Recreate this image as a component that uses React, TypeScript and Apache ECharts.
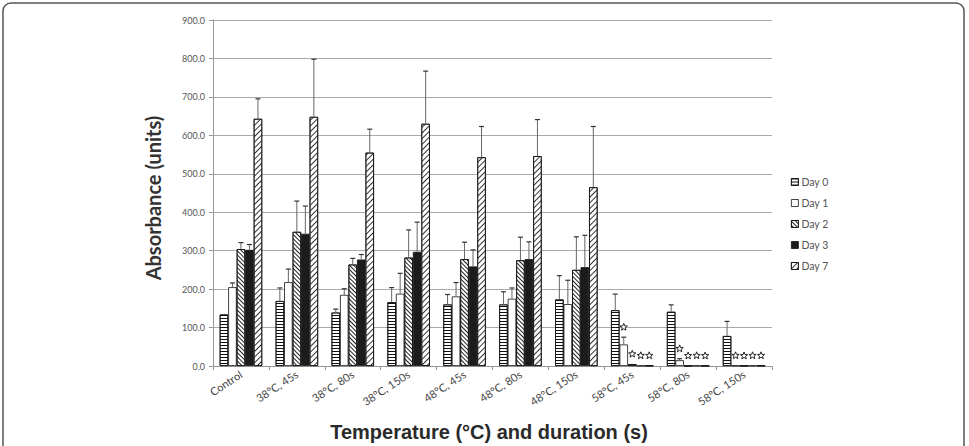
import React, { useEffect, useRef } from "react";
import * as echarts from "echarts";

const categories = [
  "Control",
  "38°C, 45s",
  "38°C, 80s",
  "38°C, 150s",
  "48°C, 45s",
  "48°C, 80s",
  "48°C, 150s",
  "58°C, 45s",
  "58°C, 80s",
  "58°C, 150s",
];

const dayNames = ["Day 0", "Day 1", "Day 2", "Day 3", "Day 7"];

const day0 = [134, 169, 139, 166, 160, 160, 173, 145, 141, 78];
const day1 = [205, 218, 185, 188, 181, 175, 161, 56, 15, 1];
const day2 = [304, 349, 264, 282, 278, 275, 250, 5, 0.5, 0.5];
const day3 = [302, 344, 277, 297, 259, 278, 257, 1, 1, 1];
const day7 = [643, 648, 555, 630, 543, 546, 465, 1, 0.5, 1];

const day0Err = [0, 34, 9, 38, 26, 33, 62, 42, 18, 38];
const day1Err = [11, 34, 16, 53, 36, 28, 62, 19, 4, 0];
const day2Err = [17, 80, 16, 72, 44, 60, 86, 0, 0, 0];
const day3Err = [14, 72, 13, 77, 43, 45, 83, 0, 0, 0];
const day7Err = [52, 150, 61, 137, 80, 95, 158, 0, 0, 0];

// [category index, day index] of bars flagged as significant
const starMarks = [
  [7, 1], [7, 2], [7, 3], [7, 4],
  [8, 1], [8, 2], [8, 3], [8, 4],
  [9, 1], [9, 2], [9, 3], [9, 4],
];

const yTicks = { min: 0, max: 900, interval: 100 };

const values = [day0, day1, day2, day3, day7];
const errors = [day0Err, day1Err, day2Err, day3Err, day7Err];

const CATEGORY_GAP = 0.24;
const LABEL_FONT = "Lato, 'DejaVu Sans', sans-serif";

const styles = [
  {
    color: "#fff",
    decal: {
      symbol: "rect",
      symbolSize: 1,
      color: "#111",
      dashArrayX: [1, 0],
      dashArrayY: [1, 2],
      rotation: 0,
    },
  },
  { color: "#fff", decal: "none" },
  {
    color: "#fff",
    decal: {
      symbol: "rect",
      symbolSize: 1,
      color: "#222",
      dashArrayX: [1, 0],
      dashArrayY: [1, 1.5],
      rotation: Math.PI / 4,
    },
  },
  { color: "#1c1c1c", decal: "none" },
  {
    color: "#fff",
    decal: {
      symbol: "rect",
      symbolSize: 1,
      color: "#333",
      dashArrayX: [1, 0],
      dashArrayY: [1, 2.2],
      rotation: -Math.PI / 4,
    },
  },
];

// five-pointed outline star centred on (cx, cy)
function starPoints(cx: number, cy: number, ro: number, ri: number) {
  const pts: number[][] = [];
  for (let i = 0; i < 10; i++) {
    const r = i % 2 === 0 ? ro : ri;
    const a = -Math.PI / 2 + (i * Math.PI) / 5;
    pts.push([cx + r * Math.cos(a), cy + r * Math.sin(a)]);
  }
  return pts;
}

export default function App() {
  const ref = useRef<HTMLDivElement>(null);

  useEffect(() => {
    if (!ref.current) return;
    const chart = echarts.init(ref.current, undefined, { renderer: "svg" });

    const barSeries = dayNames.map((name, s) => ({
      name,
      type: "bar",
      barGap: "0%",
      barCategoryGap: `${CATEGORY_GAP * 100}%`,
      data: values[s],
      itemStyle: {
        color: styles[s].color,
        borderColor: "#111",
        borderWidth: 0.8,
        decal: styles[s].decal,
      },
      z: 2,
    }));

    const starSet = new Set(starMarks.map(([c, s]) => `${c}-${s}`));
    const errData: number[][] = [];
    values.forEach((arr, s) => {
      arr.forEach((v, c) => {
        errData.push([c, s, v, errors[s][c], starSet.has(`${c}-${s}`) ? 1 : 0]);
      });
    });

    const errorSeries = {
      type: "custom",
      name: "errors",
      z: 5,
      encode: { x: 0, y: 2 },
      data: errData,
      renderItem: (params: any, api: any) => {
        const c = api.value(0);
        const s = api.value(1);
        const v = api.value(2);
        const e = api.value(3);
        const star = api.value(4);
        const band = api.size([1, 0])[0];
        const bw = (band * (1 - CATEGORY_GAP)) / 5;
        const cx = api.coord([c, 0])[0] - 2.5 * bw + (s + 0.5) * bw;
        const yv = api.coord([c, v])[1];
        const yt = api.coord([c, v + e])[1];
        const children: any[] = [];
        if (e > 0) {
          children.push({
            type: "line",
            shape: { x1: cx, y1: yv, x2: cx, y2: yt },
            style: { stroke: "#666", lineWidth: 1 },
          });
          children.push({
            type: "line",
            shape: { x1: cx - 2.5, y1: yt, x2: cx + 2.5, y2: yt },
            style: { stroke: "#333", lineWidth: 1.2 },
          });
        }
        if (star) {
          children.push({
            type: "polygon",
            shape: { points: starPoints(cx, yt - 10, 3.8, 1.6) },
            style: { fill: "#fff", stroke: "#111", lineWidth: 0.9 },
          });
        }
        return { type: "group", children };
      },
    };

    chart.setOption({
      animation: false,
      backgroundColor: "#fff",
      grid: { left: 213, right: 197, top: 20, bottom: 80 },
      legend: {
        data: dayNames,
        orient: "vertical",
        left: 786,
        top: 171,
        itemWidth: 7,
        itemHeight: 7,
        itemGap: 9,
        icon: "rect",
        itemStyle: { borderColor: "#111", borderWidth: 0.8 },
        textStyle: {
          fontFamily: LABEL_FONT,
          fontSize: 10.5,
          color: "#555",
          lineHeight: 12,
          padding: [0, 0, 0, -2],
        },
      },
      xAxis: {
        type: "category",
        data: categories,
        axisLine: { lineStyle: { color: "#999" } },
        axisTick: { show: true, length: 4, lineStyle: { color: "#999" } },
        axisLabel: {
          interval: 0,
          rotate: 33,
          fontFamily: LABEL_FONT,
          fontSize: 11,
          color: "#444",
          margin: 7,
        },
      },
      yAxis: {
        type: "value",
        min: yTicks.min,
        max: yTicks.max,
        interval: yTicks.interval,
        axisLine: { show: true, lineStyle: { color: "#999" } },
        axisTick: { show: true, length: 4, lineStyle: { color: "#999" } },
        splitLine: { lineStyle: { color: "#aaa" } },
        axisLabel: {
          formatter: (v: number) => v.toFixed(1),
          fontFamily: LABEL_FONT,
          fontSize: 9,
          color: "#555",
          margin: 8,
        },
      },
      graphic: [
        {
          type: "rect",
          shape: { x: 3, y: 3, width: 961, height: 470, r: 8 },
          style: { fill: "none", stroke: "#555", lineWidth: 1.5 },
          silent: true,
        },
        {
          type: "text",
          x: 153,
          y: 198,
          rotation: Math.PI / 2,
          style: {
            text: "Absorbance (units)",
            font: "bold 20px Lato, 'DejaVu Sans', sans-serif",
            fill: "#333",
            align: "center",
            verticalAlign: "middle",
          },
        },
        {
          type: "text",
          x: 489,
          y: 432,
          style: {
            text: "Temperature (°C) and duration (s)",
            font: "bold 20px 'Liberation Sans', Arial, sans-serif",
            fill: "#2a2a2a",
            align: "center",
            verticalAlign: "middle",
          },
        },
      ],
      series: [...barSeries, errorSeries],
    });

    return () => chart.dispose();
  }, []);

  return (
    <div style={{ position: "fixed", left: 0, top: 0, width: 969, height: 446, background: "#fff" }}>
      <div ref={ref} style={{ width: 969, height: 446 }} />
    </div>
  );
}
